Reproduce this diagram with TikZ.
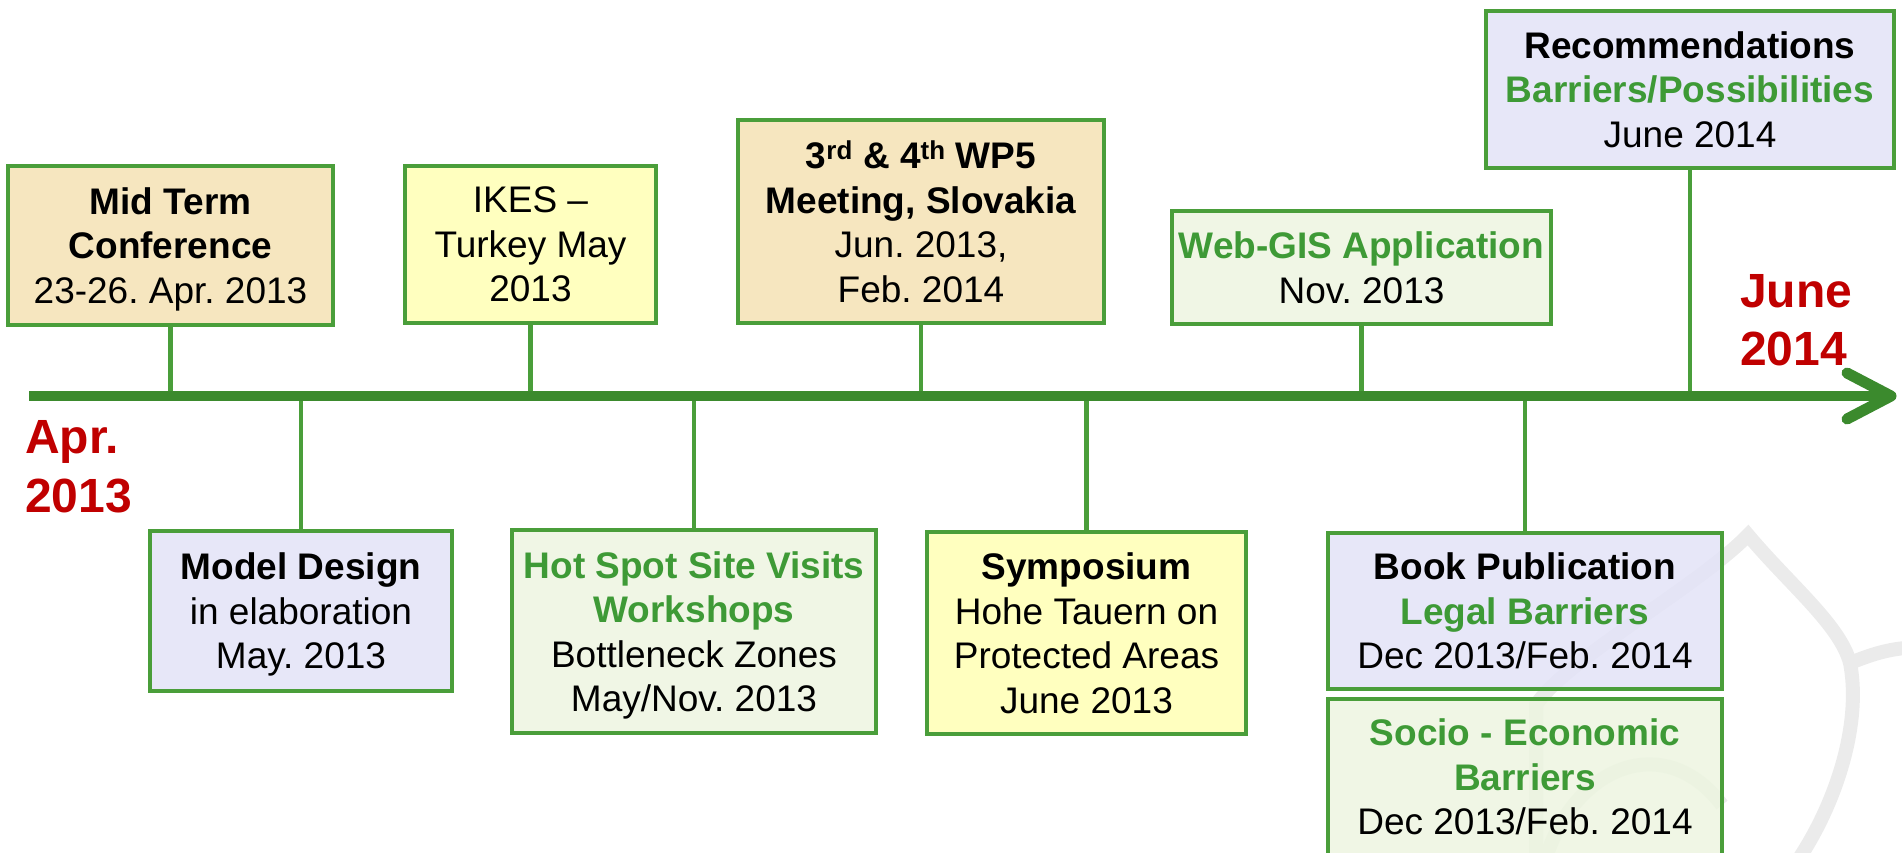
\documentclass[tikz,border=0pt]{standalone}
\usepackage{fontspec}
\setmainfont{Liberation Sans}
\frenchspacing
\definecolor{tgreen}{HTML}{3E9A36}
\definecolor{bgreen}{HTML}{4A9E3A}
\definecolor{agreen}{HTML}{3B8A2D}
\definecolor{tred}{HTML}{C00000}
\definecolor{ftan}{HTML}{F4E2B4}
\definecolor{fyellow}{HTML}{FFFFB4}
\definecolor{flav}{HTML}{E3E3F7}
\definecolor{fgreen}{HTML}{EDF5E0}
\definecolor{wmark}{HTML}{EBEBEB}
\newcommand{\gtxt}[1]{\textcolor{tgreen}{\bfseries #1}}
\begin{document}
\begin{tikzpicture}[x=1pt,y=-1pt,
  box/.style={draw=bgreen, line width=4.5pt, inner sep=0pt, align=center,
    text depth=0pt, fill opacity=0.85, text opacity=1,
    font=\fontsize{37}{44.5}\selectfont},
  conn/.style={draw=bgreen, line width=4.5pt},
  axisline/.style={draw=agreen, line width=10pt},
  redlbl/.style={text=tred, inner sep=0pt, font=\fontsize{48}{57}\selectfont\bfseries},
  wm/.style={draw=wmark, line width=14pt}]
\useasboundingbox (0,0) rectangle (1902,852);

% faint watermark
\draw[wm] (1536,860) -- (1536,705) .. controls (1565,660) and (1700,585) .. (1748,535)
  .. controls (1790,585) and (1840,625) .. (1850,663)
  .. controls (1862,725) and (1835,805) .. (1798,860);
\draw[wm] (1850,663) .. controls (1870,655) and (1885,650) .. (1905,648);
\draw[wm] (1545,860) .. controls (1575,765) and (1665,730) .. (1722,805);

% axis
\coordinate (axL) at (29,396);
\coordinate (axR) at (1886,396);
\coordinate (tip) at (1891,396);
\coordinate (chU) at (1847,373);
\coordinate (chD) at (1847,419);

% boxes above
\node[box, fill=ftan, minimum width=325pt, minimum height=159pt] (mid) at (170.5,245.5)
  {\bfseries Mid Term\\ \bfseries Conference\\ 23-26. Apr. 2013};
\node[box, fill=fyellow, minimum width=251pt, minimum height=157pt] (ikes) at (530.5,244.5)
  {IKES --\\ Turkey May\\ 2013};
\node[box, fill=ftan, minimum width=366pt, minimum height=203pt] (wp5) at (921,221.5)
  {\bfseries 3\textsuperscript{rd} \& 4\textsuperscript{th} WP5\\ \bfseries Meeting, Slovakia\\ Jun. 2013,\\ Feb. 2014};
\node[box, fill=fgreen, minimum width=379pt, minimum height=113pt] (web) at (1361.5,267.5)
  {\gtxt{Web-GIS Application}\\ Nov. 2013};
\node[box, fill=flav, minimum width=408pt, minimum height=157pt] (rec) at (1690,89.5)
  {\bfseries Recommendations\\ \gtxt{Barriers/Possibilities}\\ June 2014};

% boxes below
\node[box, fill=flav, minimum width=302pt, minimum height=160pt] (model) at (301,611)
  {\bfseries Model Design\\ in elaboration\\ May. 2013};
\node[box, fill=fgreen, minimum width=364pt, minimum height=203pt] (hot) at (694,631.5)
  {\gtxt{Hot Spot Site Visits}\\ \gtxt{Workshops}\\ Bottleneck Zones\\ May/Nov. 2013};
\node[box, fill=fyellow, minimum width=319pt, minimum height=202pt] (symp) at (1086.5,633)
  {\bfseries Symposium\\ Hohe Tauern on\\ Protected Areas\\ June 2013};
\node[box, fill=flav, minimum width=394pt, minimum height=156pt] (book) at (1525,611)
  {\bfseries Book Publication\\ \gtxt{Legal Barriers}\\ Dec 2013/Feb. 2014};
\node[box, fill=fgreen, minimum width=394pt, minimum height=156pt] (socio) at (1525,777)
  {\gtxt{Socio - Economic}\\ \gtxt{Barriers}\\ Dec 2013/Feb. 2014};

% connectors
\foreach \n in {mid,ikes,wp5,web,rec}{
  \draw[conn] (\n.south) -- (\n.south |- axL);
}
\foreach \n in {model,hot,symp,book}{
  \draw[conn] (\n.north) -- (\n.north |- axL);
}

% axis and arrow
\draw[axisline] (axL) -- (axR);
\draw[axisline, line width=11pt, line cap=round, line join=round] (chU) -- (tip) -- (chD);

% red labels
\node[redlbl, anchor=base west] (apr) at (25,453) {Apr.};
\node[redlbl, anchor=base west] (apryr) at (25,512) {2013};
\node[redlbl, anchor=base west] (jun) at (1740,307) {June};
\node[redlbl, anchor=base west] (junyr) at (1740,365) {2014};
\end{tikzpicture}
\end{document}
